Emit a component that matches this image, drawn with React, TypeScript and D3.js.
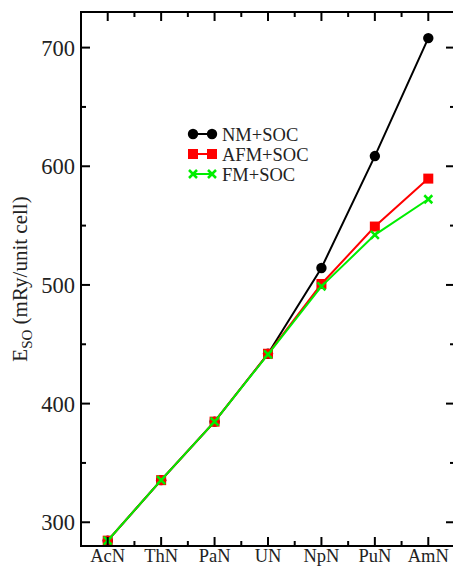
import React from "react";
import * as d3 from "d3";

const categories = ["AcN", "ThN", "PaN", "UN", "NpN", "PuN", "AmN"];
const nmSoc = [284.5, 335.5, 384.8, 442, 514.3, 608.6, 708];
const afmSoc = [284.5, 335.5, 384.8, 442, 500.8, 549.2, 589.6];
const fmSoc = [284.5, 335.5, 384.8, 441.5, 498.8, 542.2, 572.2];
const yMajorTicks = [300, 400, 500, 600, 700];
const yMinorTicks = [350, 450, 550, 650];
const seriesNames = ["NM+SOC", "AFM+SOC", "FM+SOC"];

const W = 453;
const H = 567;
const L = 81;
const R = 455;
const T = 12;
const B = 546;
const FONT = "Liberation Serif, Times New Roman, Tinos, DejaVu Serif, serif";

export default function App() {
  const x = d3.scaleLinear().domain([-0.5, 6.5]).range([L, R]);
  const y = d3.scaleLinear().domain([280, 730]).range([B, T]);
  const line = d3
    .line<number>()
    .x((_, i) => x(i))
    .y((d) => y(d));
  const xMinor = d3.range(0, 7).map((i) => i + 0.5);
  const series = [
    { name: seriesNames[0], data: nmSoc, color: "#000000", marker: "circle" },
    { name: seriesNames[1], data: afmSoc, color: "#ff0000", marker: "square" },
    { name: seriesNames[2], data: fmSoc, color: "#00ee00", marker: "x" },
  ];
  const marker = (kind: string, cx: number, cy: number, color: string, key: any) => {
    if (kind === "circle") return <circle key={key} cx={cx} cy={cy} r={5.2} fill={color} />;
    if (kind === "square")
      return <rect key={key} x={cx - 5} y={cy - 5} width={10} height={10} fill={color} />;
    const s = 4;
    return (
      <path
        key={key}
        d={`M${cx - s},${cy - s}L${cx + s},${cy + s}M${cx - s},${cy + s}L${cx + s},${cy - s}`}
        stroke={color}
        strokeWidth={2.5}
        fill="none"
      />
    );
  };
  const legX1 = 193;
  const legX2 = 212;
  const legY = [134, 154, 174];
  const tf = { fontFamily: FONT };
  return (
    <svg
      width={W}
      height={H}
      style={{ position: "absolute", left: 0, top: 0, display: "block", background: "#fff", fontFamily: FONT }}
    >
      {series.map((s) => (
        <g key={s.name}>
          <path d={line(s.data) || ""} fill="none" stroke={s.color} strokeWidth={2} />
          {s.data.map((v, i) => marker(s.marker, x(i), y(v), s.color, i))}
        </g>
      ))}
      <g stroke="#000" strokeWidth={2} fill="none">
        <rect x={L} y={T} width={R - L} height={B - T} />
      </g>
      <g stroke="#000" strokeWidth={2}>
        {categories.map((c, i) => (
          <g key={c}>
            <line x1={x(i)} x2={x(i)} y1={B} y2={B - 9} />
            <line x1={x(i)} x2={x(i)} y1={T} y2={T + 9} />
          </g>
        ))}
        {xMinor.map((v) => (
          <g key={v}>
            <line x1={x(v)} x2={x(v)} y1={B} y2={B - 5} />
            <line x1={x(v)} x2={x(v)} y1={T} y2={T + 5} />
          </g>
        ))}
        {yMajorTicks.map((v) => (
          <g key={v}>
            <line x1={L} x2={L + 9} y1={y(v)} y2={y(v)} />
            <line x1={R} x2={R - 9} y1={y(v)} y2={y(v)} />
          </g>
        ))}
        {yMinorTicks.map((v) => (
          <g key={v}>
            <line x1={L} x2={L + 5} y1={y(v)} y2={y(v)} />
            <line x1={R} x2={R - 5} y1={y(v)} y2={y(v)} />
          </g>
        ))}
      </g>
      {categories.map((c, i) => (
        <text key={c} x={x(i)} y={562} textAnchor="middle" fontSize={18.5} fill="#222" style={tf}>
          {c}
        </text>
      ))}
      {yMajorTicks.map((v) => (
        <text key={v} x={75} y={y(v) + 8} textAnchor="end" fontSize={22.5} fill="#222" style={tf}>
          {v}
        </text>
      ))}
      <text
        transform={`translate(27,${279}) rotate(-90)`}
        textAnchor="middle"
        fontSize={21}
        fill="#222"
        style={tf}
      >
        E<tspan fontSize={15} dy={5}>SO</tspan>
        <tspan dy={-5}> (mRy/unit cell)</tspan>
      </text>
      {series.map((s, i) => (
        <g key={s.name}>
          <line x1={legX1} x2={legX2} y1={legY[i]} y2={legY[i]} stroke={s.color} strokeWidth={2} />
          {marker(s.marker, legX1, legY[i], s.color, "a")}
          {marker(s.marker, legX2, legY[i], s.color, "b")}
          <text x={222} y={legY[i] + 6.5} fontSize={18.5} fill="#222" style={tf}>
            {s.name}
          </text>
        </g>
      ))}
    </svg>
  );
}
